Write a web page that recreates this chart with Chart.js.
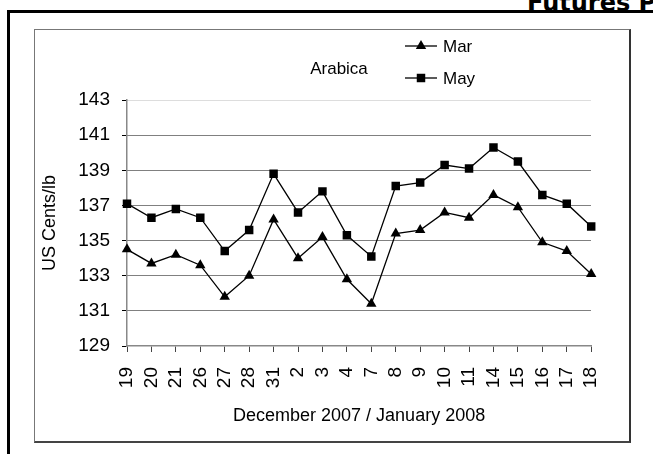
<!DOCTYPE html>
<html lang="en">
<head>
    <meta charset="UTF-8">
    <title>Arabica Futures</title>
    <script src="https://cdn.jsdelivr.net/npm/chart.js"></script>
    <style>
        body {
            margin: 0;
            width: 653px;
            height: 454px;
            overflow: hidden;
            background: #fff;
            position: relative;
            font-family: 'Liberation Sans', Arial, sans-serif;
        }

        .page-title {
            position: absolute;
            left: 527px;
            top: -9px;
            font: bold 24px 'DejaVu Sans', Verdana, sans-serif;
            line-height: 1;
            white-space: nowrap;
            color: #000;
        }

        .frame {
            position: absolute;
            left: 7px;
            top: 10px;
            width: 700px;
            height: 500px;
            border-left: 3px solid #000;
            border-top: 3px solid #000;
        }

        .chart-box {
            position: absolute;
            left: 34px;
            top: 29px;
            width: 594px;
            height: 411px;
            border: 1px solid #777;
            border-right: 2px solid #333;
            border-bottom: 2px solid #444;
            background: #fff;
        }

        canvas {
            display: block;
        }
    </style>
</head>
<body>
    <div class="page-title">Futures P</div>
    <div class="frame"></div>

    <div class="chart-box">
        <canvas id="coffeeChart" width="594" height="411"></canvas>
    </div>

    <script>
        const days = ['19', '20', '21', '26', '27', '28', '31', '2', '3', '4', '7',
                      '8', '9', '10', '11', '14', '15', '16', '17', '18'];
        const marValues = [134.5, 133.7, 134.2, 133.6, 131.8, 133.0, 136.2, 134.0, 135.2, 132.8,
                           131.4, 135.4, 135.6, 136.6, 136.3, 137.6, 136.9, 134.9, 134.4, 133.1];
        const mayValues = [137.1, 136.3, 136.8, 136.3, 134.4, 135.6, 138.8, 136.6, 137.8, 135.3,
                           134.1, 138.1, 138.3, 139.3, 139.1, 140.3, 139.5, 137.6, 137.1, 135.8];
        const yMin = 129;
        const yMax = 143;
        const yStep = 2;

        const fontFamily = "'Liberation Sans', Arial, sans-serif";

        // legend + "Arabica" label, drawn inside the chart box
        const legendPlugin = {
            id: 'arabicaLegend',
            afterDraw(chart) {
                const ctx = chart.ctx;
                ctx.save();
                ctx.fillStyle = '#000';
                ctx.textBaseline = 'middle';
                ctx.font = '17px ' + fontFamily;
                ctx.textAlign = 'center';
                ctx.fillText('Arabica', 304, 39);

                const rows = [
                    { label: 'Mar', y: 16, ds: chart.data.datasets[0] },
                    { label: 'May', y: 48, ds: chart.data.datasets[1] }
                ];
                rows.forEach(r => {
                    ctx.strokeStyle = '#000';
                    ctx.lineWidth = 1.3;
                    ctx.beginPath();
                    ctx.moveTo(370, r.y);
                    ctx.lineTo(402, r.y);
                    ctx.stroke();
                    ctx.fillStyle = '#000';
                    Chart.helpers.drawPoint(ctx, {
                        pointStyle: r.ds.pointStyle,
                        radius: r.ds.pointRadius,
                        rotation: 0,
                        borderWidth: 0
                    }, 386, r.y);
                    ctx.textAlign = 'left';
                    ctx.fillText(r.label, 408, r.y + 1);
                });
                ctx.restore();
            }
        };

        const ctx = document.getElementById('coffeeChart').getContext('2d');
        new Chart(ctx, {
            type: 'line',
            data: {
                labels: days,
                datasets: [
                    {
                        label: 'Mar',
                        data: marValues,
                        borderColor: '#000',
                        borderWidth: 1.3,
                        backgroundColor: '#000',
                        pointStyle: 'triangle',
                        pointRadius: 6,
                        pointBorderWidth: 0,
                        tension: 0
                    },
                    {
                        label: 'May',
                        data: mayValues,
                        borderColor: '#000',
                        borderWidth: 1.3,
                        backgroundColor: '#000',
                        pointStyle: 'rect',
                        pointRadius: 6,
                        pointBorderWidth: 0,
                        tension: 0
                    }
                ]
            },
            options: {
                responsive: false,
                animation: false,
                layout: {
                    padding: { top: 70, right: 29, left: 0, bottom: 0 }
                },
                plugins: {
                    legend: { display: false },
                    tooltip: { enabled: false }
                },
                scales: {
                    x: {
                        offset: false,
                        afterFit: s => { s.height = 95; },
                        grid: {
                            drawOnChartArea: false,
                            drawTicks: true,
                            tickLength: 6,
                            tickColor: '#444',
                            tickWidth: 1
                        },
                        border: { color: '#888', width: 1.5 },
                        ticks: {
                            autoSkip: false,
                            maxRotation: 90,
                            minRotation: 90,
                            padding: 15,
                            color: '#000',
                            font: { family: fontFamily, size: 19 }
                        },
                        title: {
                            display: true,
                            text: 'December 2007 / January 2008',
                            color: '#000',
                            font: { family: fontFamily, size: 18 },
                            padding: { top: 0, bottom: 14 }
                        }
                    },
                    y: {
                        min: yMin,
                        max: yMax,
                        afterFit: s => { s.width = 92; },
                        ticks: {
                            stepSize: yStep,
                            padding: 12,
                            color: '#000',
                            font: { family: fontFamily, size: 19 }
                        },
                        grid: {
                            color: c => {
                                if (c.tick.value === yMin) return 'rgba(0,0,0,0)';
                                if (c.tick.value === yMax) return '#bbb';
                                return '#000';
                            },
                            lineWidth: 1,
                            tickLength: 5,
                            tickColor: '#000',
                            tickWidth: 1
                        },
                        border: { color: '#888', width: 1.5, dash: [1, 1] },
                        title: {
                            display: true,
                            text: 'US Cents/lb',
                            color: '#000',
                            font: { family: fontFamily, size: 18 },
                            padding: { top: 4, bottom: 0 }
                        }
                    }
                }
            },
            plugins: [legendPlugin]
        });
    </script>
</body>
</html>
